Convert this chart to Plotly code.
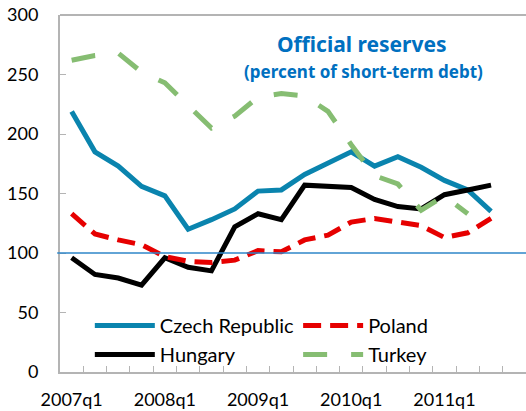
import plotly.graph_objects as go

quarters = [f"{y}q{q}" for y in range(2007, 2012) for q in range(1, 5)]
tick_labels = ["2007q1", "2008q1", "2009q1", "2010q1", "2011q1"]

czech = [219, 185, 173, 156, 148, 120, 128, 137, 152, 153, 166, 175, 185, 173, 181, 172, 161, 153, 135]
hungary = [96, 82, 79, 73, 96, 88, 85, 122, 133, 128, 157, 156, 155, 145, 139, 137, 149, 153, 157]
poland = [133, 116, 111, 107, 97, 93, 92, 94, 102, 101, 111, 115, 126, 129, 126, 123, 113, 117, 129]
turkey = [262, 266, 268, 252, 243, 224, 205, 215, 231, 234, 232, 219, 191, 165, 158, 136, 148, 133]

reference_level = 100
y_ticks = [0, 50, 100, 150, 200, 250, 300]

FONT = "Lato"
TITLE_FONT = "Noto Sans"
AXIS_GRAY = "#B4B4B4"

fig = go.Figure()
fig.add_trace(go.Scatter(x=quarters[:len(czech)], y=czech, name="Czech Republic", mode="lines",
                         line=dict(color="#0A84AE", width=5), legend="legend"))
fig.add_trace(go.Scatter(x=quarters[:len(hungary)], y=hungary, name="Hungary", mode="lines",
                         line=dict(color="#000000", width=5), legend="legend"))
fig.add_trace(go.Scatter(x=quarters[:len(poland)], y=poland, name="Poland", mode="lines",
                         line=dict(color="#E60000", width=5, dash="18px,9px"), legend="legend2"))
fig.add_trace(go.Scatter(x=quarters[:len(turkey)], y=turkey, name="Turkey", mode="lines",
                         line=dict(color="#86BD72", width=5, dash="24px,24px"), legend="legend2"))

fig.add_shape(type="line", xref="paper", yref="y", x0=-0.006, x1=1, y0=reference_level, y1=reference_level,
              line=dict(color="#2E86C8", width=1.5))
fig.add_shape(type="line", xref="paper", yref="paper", x0=0, x1=1, y0=1, y1=1,
              line=dict(color=AXIS_GRAY, width=2))

fig.add_annotation(text="<b>Official reserves</b>", xref="paper", yref="paper", x=0.649, y=0.919,
                   xanchor="center", yanchor="middle",
                   showarrow=False, font=dict(family=TITLE_FONT, size=21, color="#0070C0"))
fig.add_annotation(text="<b>(percent of short-term debt)</b>", xref="paper", yref="paper", x=0.651, y=0.843,
                   xanchor="center", yanchor="middle",
                   showarrow=False, font=dict(family=TITLE_FONT, size=17, color="#0070C0"))

fig.update_layout(
    width=526, height=411,
    margin=dict(l=60, r=0, t=15, b=39, autoexpand=False),
    paper_bgcolor="white", plot_bgcolor="white",
    font=dict(family=FONT, size=18, color="#000000"),
    legend=dict(x=0.064, y=0.185, xanchor="left", yanchor="top", bgcolor="rgba(0,0,0,0)",
                font=dict(family=FONT, size=20), itemwidth=60, tracegroupgap=0),
    legend2=dict(x=0.511, y=0.185, xanchor="left", yanchor="top", bgcolor="rgba(0,0,0,0)",
                 font=dict(family=FONT, size=20), itemwidth=60, tracegroupgap=0),
    xaxis=dict(type="category", categoryorder="array", categoryarray=quarters,
               range=[-0.5, len(quarters) - 0.5],
               tickmode="array", tickvals=quarters,
               ticktext=[q if q in tick_labels else "" for q in quarters],
               tickangle=0, automargin=False,
               tickson="boundaries", ticks="inside", ticklen=6, tickcolor=AXIS_GRAY, tickwidth=1,
               showline=True, linecolor=AXIS_GRAY, linewidth=2, showgrid=False, zeroline=False,
               ticklabelstandoff=10, tickfont=dict(family=FONT, size=18)),
    yaxis=dict(range=[0, 300], tickmode="array", tickvals=y_ticks, automargin=False,
               ticks="inside", ticklen=6, tickcolor=AXIS_GRAY, tickwidth=1,
               showline=True, linecolor=AXIS_GRAY, linewidth=2, showgrid=False, zeroline=False,
               ticklabelstandoff=16, tickfont=dict(family=FONT, size=18)),
)

fig.write_html("out.html", config={"displayModeBar": False},
               post_script="document.body.style.margin='0';")
